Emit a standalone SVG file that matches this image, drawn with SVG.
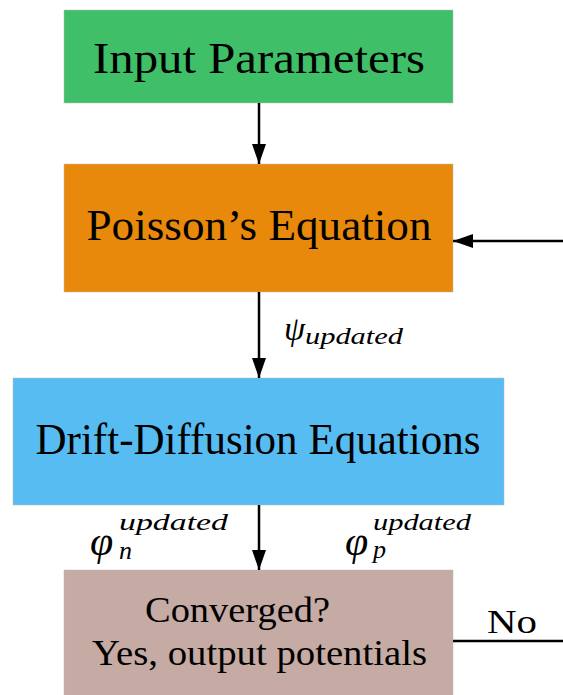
<svg xmlns="http://www.w3.org/2000/svg" width="563" height="695" viewBox="0 0 563 695">
<defs>
<marker id="a" viewBox="0 0 20 14" refX="20" refY="7" markerWidth="20" markerHeight="14" markerUnits="userSpaceOnUse" orient="auto">
<path d="M0,0 L20,7 L0,14 z" fill="#000"/>
</marker>
</defs>
<rect width="563" height="695" fill="#fff"/>
<g font-family="'Liberation Serif', 'DejaVu Serif', serif" fill="#000">
<g id="input">
<rect x="64" y="10" width="389" height="93" fill="#3FBF68" stroke="#bbb" stroke-width="0.5"/>
<text x="259" y="73" font-size="45" text-anchor="middle" textLength="332" lengthAdjust="spacingAndGlyphs">Input Parameters</text>
</g>
<g id="poisson">
<rect x="64" y="164" width="389" height="128" fill="#E8890B" stroke="#bbb" stroke-width="0.5"/>
<text x="259" y="240" font-size="45" text-anchor="middle" textLength="345" lengthAdjust="spacingAndGlyphs">Poisson’s Equation</text>
</g>
<g id="drift">
<rect x="13" y="378" width="491" height="127" fill="#56BCF1" stroke="#bbb" stroke-width="0.5"/>
<text x="258" y="454" font-size="45" text-anchor="middle" textLength="445" lengthAdjust="spacingAndGlyphs">Drift-Diffusion Equations</text>
</g>
<g id="converged">
<rect x="64" y="570" width="389" height="130" fill="#C5ABA3" stroke="#bbb" stroke-width="0.5"/>
<text x="145" y="622" font-size="35" textLength="185" lengthAdjust="spacingAndGlyphs">Converged?</text>
<text x="92" y="665" font-size="35" textLength="335" lengthAdjust="spacingAndGlyphs">Yes, output potentials</text>
</g>
<g id="connectors" stroke="#000" stroke-width="2.5" fill="none">
<line x1="259" y1="103" x2="259" y2="164" marker-end="url(#a)"/>
<line x1="259" y1="292" x2="259" y2="378" marker-end="url(#a)"/>
<line x1="259" y1="505" x2="259" y2="570" marker-end="url(#a)"/>
<line x1="563" y1="241" x2="453" y2="241" marker-end="url(#a)"/>
<line x1="453" y1="641" x2="563" y2="641"/>
</g>
<g id="labels" font-style="italic">
<text x="284" y="340" font-size="34">ψ</text>
<text x="305" y="344" font-size="24" textLength="98" lengthAdjust="spacingAndGlyphs">updated</text>
<text x="90" y="555" font-size="42">φ</text>
<text x="119" y="530" font-size="24" textLength="109" lengthAdjust="spacingAndGlyphs">updated</text>
<text x="119" y="559" font-size="26">n</text>
<text x="345" y="555" font-size="42">φ</text>
<text x="373" y="530" font-size="24" textLength="98" lengthAdjust="spacingAndGlyphs">updated</text>
<text x="373" y="558" font-size="26">p</text>
</g>
<text x="487" y="633" font-size="34" textLength="50" lengthAdjust="spacingAndGlyphs">No</text>
</g>
</svg>
